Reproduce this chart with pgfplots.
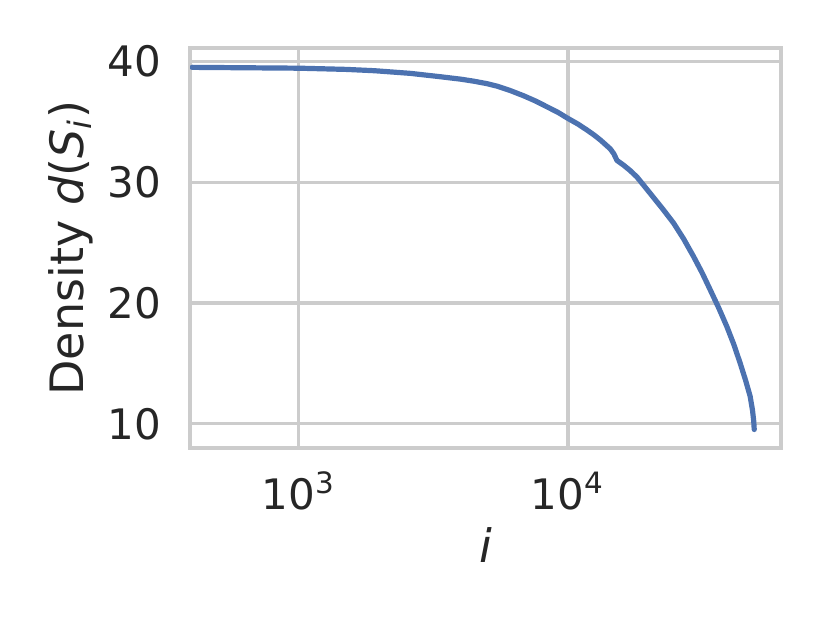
\documentclass[border=0pt]{standalone}
\usepackage{fontspec}
\setmainfont{DejaVu Sans}
\usepackage{pgfplots}
\pgfplotsset{compat=1.18}
\definecolor{sbblue}{HTML}{4C72B0}
\definecolor{gridgray}{HTML}{CCCCCC}
\definecolor{txt}{HTML}{262626}

\begin{document}
\begin{tikzpicture}
\useasboundingbox (0,0) rectangle (207.5pt,155.75pt);
\begin{axis}[
    at={(47.5pt,43.75pt)}, anchor=south west,
    scale only axis, width=147.75pt, height=100pt,
    xmode=log, xmin=394, xmax=61900, ymin=8.0, ymax=41.1,
    xtick={1000,10000}, xticklabels={10\textsuperscript{3},10\textsuperscript{4}},
    ytick={10,20,30,40}, yticklabels={10,20,30,40},
    xminorticks=false, yminorticks=false,
    major tick length=0pt,
    grid=major,
    major grid style={draw=gridgray, line width=0.8pt},
    axis line style={draw=gridgray, line width=0.9pt},
    xticklabel style={font=\fontsize{10.5}{12}\selectfont, text=txt, inner sep=0pt, anchor=north, yshift=-5.75pt},
    yticklabel style={font=\fontsize{10.5}{12}\selectfont, text=txt, inner sep=0pt, anchor=east, xshift=-7.1pt},
    xlabel={\textit{i}},
    ylabel={Density \textit{d}(\textit{S}\textsubscript{\textit{i}})},
    every axis x label/.style={at={(axis description cs:0.5,-0.1975)}, anchor=north, inner sep=0pt, font=\fontsize{11.5}{13}\selectfont, text=txt},
    every axis y label/.style={at={(axis description cs:-0.1624,0.5)}, rotate=90, anchor=south, inner sep=0pt, font=\fontsize{11.5}{13}\selectfont, text=txt},
]
\addplot[sbblue, line width=1.3pt, line join=round, line cap=round] coordinates {
    (401,39.50) (1000,39.43) (1500,39.33) (1914,39.22) (2600,39.00)
    (3365,38.72) (4000,38.52) (4477,38.35) (5000,38.15) (5460,37.94)
    (6100,37.58) (6855,37.14) (7600,36.70) (8364,36.23) (9200,35.76)
    (10000,35.27) (10900,34.80) (11770,34.31) (12500,33.90) (13190,33.49)
    (13800,33.10) (14360,32.75) (14800,32.35) (15200,31.80) (16100,31.40)
    (17000,30.97) (18050,30.42) (19300,29.62) (20800,28.72) (22600,27.72)
    (24680,26.61) (26900,25.30) (29270,23.85) (31500,22.50) (33750,21.10)
    (36300,19.60) (38900,18.07) (41300,16.58) (43600,15.04) (45700,13.60)
    (47500,12.29) (48500,11.10) (49000,10.20) (49200,9.53)
};
\end{axis}
\end{tikzpicture}
\end{document}
